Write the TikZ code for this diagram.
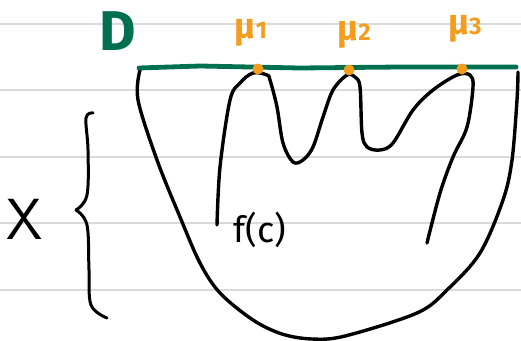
\documentclass[tikz,border=0pt]{standalone}
\usepackage{fontspec}
\setmainfont{Fira Sans}
\definecolor{rule}{HTML}{DADADA}
\definecolor{dgreen}{HTML}{00704F}
\definecolor{morange}{HTML}{F39C1E}
\tikzset{
  ruleline/.style={draw=rule, line width=1.3pt},
  ink/.style={draw=black, line width=3.4pt, line cap=round, line join=round},
  greenink/.style={draw=dgreen, line width=4.8pt, line cap=round},
  dotnode/.style={circle, fill=morange, inner sep=0pt, minimum size=11pt},
  mulabel/.style={text=morange, font=\fontsize{36}{36}\selectfont\bfseries, inner sep=0pt},
}
\newcommand{\musub}[1]{μ\raisebox{0pt}{\fontsize{24}{24}\selectfont #1}}
\begin{document}
\begin{tikzpicture}[x=1pt, y=-1pt]
\useasboundingbox (0,0) rectangle (521,340);
% ruled lines
\foreach \yy in {24,90,157,223,290} \draw[ruleline] (0,\yy) -- (521,\yy);
% outer curve
\draw[ink] plot[smooth, tension=0.55] coordinates {(140,70) (138,100) (157,160) (180,217) (200,263) (220,293) (253,320) (282,334) (312,339) (345,336) (417,313) (447,290) (480,253) (503,200) (512,160) (517,100) (518,72)};
% inner curve
\draw[ink] plot[smooth, tension=0.55] coordinates {(217,225) (220,167) (230,100) (240,83) (253,73) (267,75) (270,80) (277,107) (283,143) (293,162) (303,160) (313,147) (323,117) (333,90) (347,75) (355,77) (360,87) (362,133) (367,147) (380,150) (393,143) (413,110) (433,90) (457,75) (470,75) (473,87) (467,127) (453,157) (440,193) (427,243)};
% green line D
\draw[greenink] (139,68) -- (200,66) -- (300,68) -- (400,67) -- (516,67);
% dots
\node[dotnode] (d1) at (258,69) {};
\node[dotnode] (d2) at (349,70) {};
\node[dotnode] (d3) at (462,69) {};
% labels
\node[text=dgreen, font=\fontsize{56}{56}\selectfont\bfseries, inner sep=0pt] (D) at (118,31) {D};
\node[mulabel] (m1) at (251,33) {\musub{1}};
\node[mulabel] (m2) at (354,35) {\musub{2}};
\node[mulabel] (m3) at (465,29) {\musub{3}};
\node[font=\fontsize{36}{36}\selectfont, inner sep=0pt] (fc) at (260,230) {f(c)};
\node[font=\fontsize{58}{58}\selectfont\sffamily, inner sep=0pt] (X) at (25,219) {X};
% brace
\draw[ink, line width=3pt] plot[smooth, tension=0.6] coordinates {(93,113) (86,118) (88,150) (87,195) (76,210)};
\draw[ink, line width=3pt] plot[smooth, tension=0.6] coordinates {(76,210) (87,225) (89,270) (91,305) (107,318)};
\end{tikzpicture}
\end{document}
